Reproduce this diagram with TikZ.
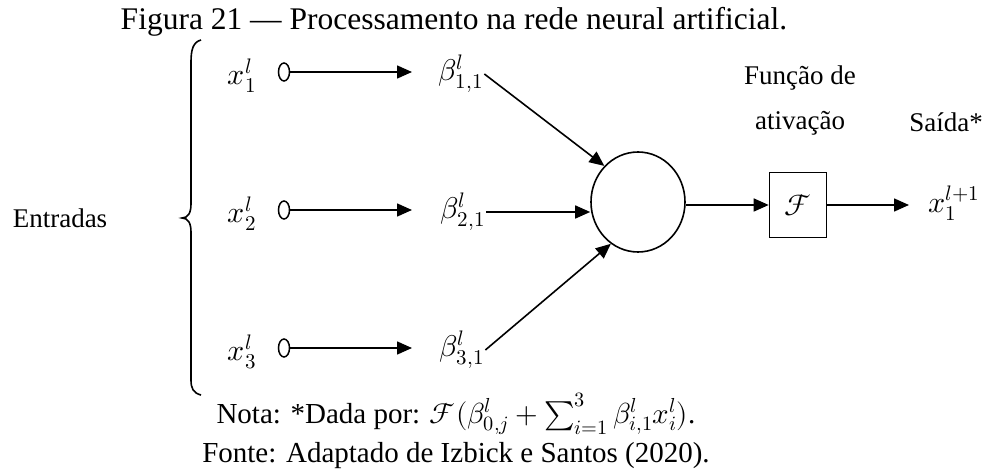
\documentclass[tikz,border=0pt]{standalone}
\usepackage{fontspec}
\usepackage{unicode-math}
\setmainfont{Liberation Serif}
\usetikzlibrary{arrows.meta,shapes.geometric}
\begin{document}
\begin{tikzpicture}[x=1pt,y=-1pt,
  lbl/.style={inner sep=0pt,font=\fontsize{27}{32}\selectfont},
  mth/.style={inner sep=1pt,font=\fontsize{30}{34}\selectfont},
  notetxt/.style={inner sep=0pt,font=\fontsize{29}{34}\selectfont},
  ttl/.style={inner sep=0pt,font=\fontsize{31.5}{36}\selectfont},
  src/.style={draw,ellipse,minimum width=11pt,minimum height=18pt,inner sep=0pt,line width=1.5pt},
  arr/.style={line width=1.6pt,-{Triangle[length=15pt,width=13pt]}},
  ln/.style={line width=1.6pt}]
\useasboundingbox (0,0) rectangle (983,470);
% title
\node[ttl] (title) at (454,22) {Figura 21 --- Processamento na rede neural artificial.};
% brace
\node[lbl] (entr) at (60,218) {Entradas};
\draw[ln] (201,40) .. controls (193,42) and (191,50) .. (191,62) -- (191,204)
  .. controls (191,213) and (188,218) .. (182,218)
  .. controls (188,218) and (191,223) .. (191,232) -- (191,380)
  .. controls (191,388) and (193,393) .. (201,395);
% inputs
\node[mth] (x1) at (242,76) {$x_1^l$};
\node[mth] (x2) at (242,214) {$x_2^l$};
\node[mth] (x3) at (242,352) {$x_3^l$};
\node[src] (e1) at (284,72) {};
\node[src] (e2) at (284,210) {};
\node[src] (e3) at (284,348) {};
\coordinate (t1) at (412,72);
\coordinate (t2) at (412,210);
\coordinate (t3) at (412,348);
\draw[arr] (e1.east) -- (t1);
\draw[arr] (e2.east) -- (t2);
\draw[arr] (e3.east) -- (t3);
% weights
\node[mth] (b1) at (461,74) {$\beta_{1,1}^l$};
\node[mth] (b2) at (463,212) {$\beta_{2,1}^l$};
\node[mth] (b3) at (462,350) {$\beta_{3,1}^l$};
% neuron
\node[draw,ellipse,line width=1.6pt,minimum width=94pt,minimum height=100pt,inner sep=0pt] (neuron) at (638,202) {};
\draw[arr] (b1.east) -- (neuron.133);
\draw[arr] (b2.east) -- (neuron.west |- b2.east);
\draw[arr] (b3.east) -- (neuron.237);
% activation
\node[draw,line width=1.6pt,minimum width=57pt,minimum height=65pt,inner sep=0pt,font=\fontsize{30}{34}\selectfont] (act) at (798,205) {$\mathcal{F}$};
\draw[arr] (neuron.east |- act) -- (act.west);
\coordinate (t4) at (909,205);
\draw[arr] (act.east) -- (t4);
\node[mth,inner sep=0pt] (out) at (954,203) {$x_1^{l+1}$};
\node[lbl] (fn1) at (800,78) {Função de};
\node[lbl] (fn2) at (800,123) {ativação};
\node[lbl] (said) at (946,122) {Saída*};
% notes
\node[notetxt] (nota) at (456,414) {Nota: *Dada por: $\mathcal{F}(\beta_{0,j}^l+\sum_{i=1}^{3}\beta_{i,1}^l x_i^l)$.};
\node[notetxt] (fonte) at (456,456) {Fonte: Adaptado de Izbick e Santos (2020).};
\end{tikzpicture}
\end{document}
